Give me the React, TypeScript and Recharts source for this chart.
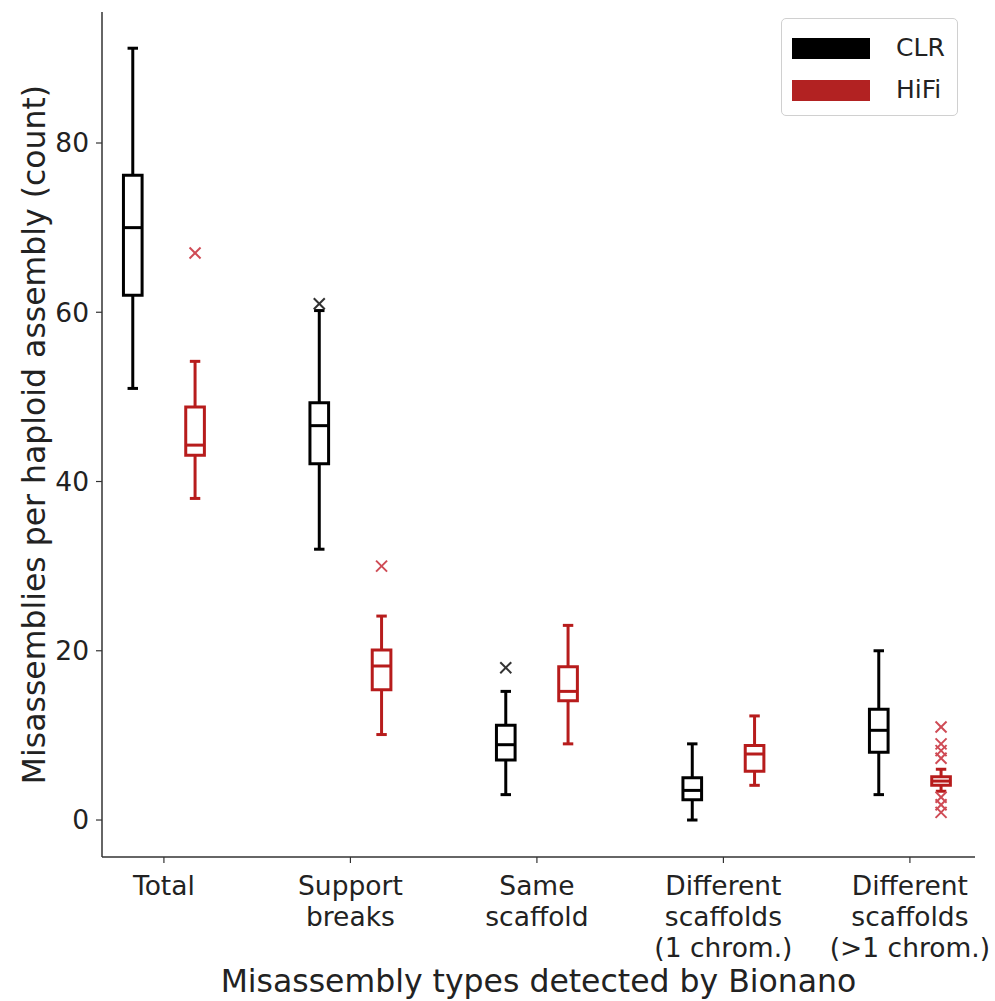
import React from 'react';
import {
  ComposedChart,
  XAxis,
  YAxis,
  Scatter,
  ReferenceArea,
  ReferenceLine,
  Legend,
} from 'recharts';

// ---------- data ----------
const categories = [
  'Total',
  'Support\nbreaks',
  'Same\nscaffold',
  'Different\nscaffolds\n(1 chrom.)',
  'Different\nscaffolds\n(>1 chrom.)',
];
const positions = [1, 2, 3, 4, 5];
const yTicks = [0, 20, 40, 60, 80];
const seriesNames = ['CLR', 'HiFi'];

const clrWhiskerLow = [51, 32, 3, 0, 3];
const clrQ1 = [62, 42.1, 7.1, 2.4, 8];
const clrMedian = [70, 46.6, 8.9, 3.5, 10.6];
const clrQ3 = [76.2, 49.3, 11.2, 5.0, 13.1];
const clrWhiskerHigh = [91.2, 60.2, 15.2, 9, 20];
const clrOutlierCat = [2, 3];
const clrOutlierVal = [61, 18];

const hifiWhiskerLow = [38, 10.1, 9, 4.1, 3.4];
const hifiQ1 = [43.1, 15.4, 14.1, 5.75, 4.1];
const hifiMedian = [44.3, 18.2, 15.2, 7.8, 4.6];
const hifiQ3 = [48.8, 20.1, 18.1, 8.8, 5.1];
const hifiWhiskerHigh = [54.2, 24.1, 23, 12.3, 6.0];
const hifiOutlierCat = [1, 2, 5, 5, 5, 5, 5, 5, 5];
const hifiOutlierVal = [67, 30, 11, 9, 8.2, 7.3, 2.7, 1.8, 0.9];

// ---------- styles ----------
const FONT = 'DejaVu Sans';
const CLR_COLOR = '#000000';
const HIFI_COLOR = '#b71c1c';
const HIFI_LEGEND = '#b22222';
const CLR_OUT = '#333333';
const HIFI_OUT = '#cf4b55';
const OFFSET = 0.167;
const BOX_HW = 0.05;
const CAP_HW = 0.028;
const LW = 3;
const TICK_FS = 26.5;
const LABEL_FS = 31.5;

type Stats = { pos: number; lo: number; q1: number; med: number; q3: number; hi: number };

const buildStats = (
  off: number,
  lo: number[],
  q1: number[],
  med: number[],
  q3: number[],
  hi: number[],
): Stats[] =>
  positions.map((p, i) => ({ pos: p + off, lo: lo[i], q1: q1[i], med: med[i], q3: q3[i], hi: hi[i] }));

const clrStats = buildStats(-OFFSET, clrWhiskerLow, clrQ1, clrMedian, clrQ3, clrWhiskerHigh);
const hifiStats = buildStats(OFFSET, hifiWhiskerLow, hifiQ1, hifiMedian, hifiQ3, hifiWhiskerHigh);

const clrOutliers = clrOutlierCat.map((c, i) => ({ x: c - OFFSET, y: clrOutlierVal[i] }));
const hifiOutliers = hifiOutlierCat.map((c, i) => ({ x: c + OFFSET, y: hifiOutlierVal[i] }));

const renderBoxes = (stats: Stats[], color: string, prefix: string) => {
  const els: React.ReactNode[] = [];
  stats.forEach((s, i) => {
    const k = `${prefix}-${i}`;
    els.push(
      <ReferenceLine
        key={`${k}-wl`}
        segment={[{ x: s.pos, y: s.lo }, { x: s.pos, y: s.q1 }]}
        stroke={color}
        strokeWidth={LW}
        ifOverflow="visible"
      />,
      <ReferenceLine
        key={`${k}-wh`}
        segment={[{ x: s.pos, y: s.q3 }, { x: s.pos, y: s.hi }]}
        stroke={color}
        strokeWidth={LW}
        ifOverflow="visible"
      />,
      <ReferenceLine
        key={`${k}-cl`}
        segment={[{ x: s.pos - CAP_HW, y: s.lo }, { x: s.pos + CAP_HW, y: s.lo }]}
        stroke={color}
        strokeWidth={LW}
        ifOverflow="visible"
      />,
      <ReferenceLine
        key={`${k}-ch`}
        segment={[{ x: s.pos - CAP_HW, y: s.hi }, { x: s.pos + CAP_HW, y: s.hi }]}
        stroke={color}
        strokeWidth={LW}
        ifOverflow="visible"
      />,
      <ReferenceArea
        key={`${k}-box`}
        x1={s.pos - BOX_HW}
        x2={s.pos + BOX_HW}
        y1={s.q1}
        y2={s.q3}
        fill="#ffffff"
        fillOpacity={1}
        stroke={color}
        strokeWidth={LW}
        ifOverflow="visible"
      />,
      <ReferenceLine
        key={`${k}-med`}
        segment={[{ x: s.pos - BOX_HW, y: s.med }, { x: s.pos + BOX_HW, y: s.med }]}
        stroke={color}
        strokeWidth={LW}
        ifOverflow="visible"
      />,
    );
  });
  return els;
};

const makeCross = (color: string) => (props: any) => {
  const { cx, cy } = props;
  if (cx == null || cy == null) return <g />;
  const r = 5.5;
  return (
    <g>
      <line x1={cx - r} y1={cy - r} x2={cx + r} y2={cy + r} stroke={color} strokeWidth={2} />
      <line x1={cx - r} y1={cy + r} x2={cx + r} y2={cy - r} stroke={color} strokeWidth={2} />
    </g>
  );
};

const XTick = (props: any) => {
  const { x, y, payload } = props;
  const idx = positions.indexOf(payload.value);
  const lines = idx >= 0 ? categories[idx].split('\n') : [];
  return (
    <text x={x} y={y} textAnchor="middle" fontSize={TICK_FS} fill="#222" fontFamily={FONT}>
      {lines.map((l, i) => (
        <tspan key={i} x={x} dy={i === 0 ? 30 : 31}>
          {l}
        </tspan>
      ))}
    </text>
  );
};

const LegendBox = () => (
  <div
    style={{
      width: 177,
      height: 98,
      border: '1px solid #d0d0d0',
      borderRadius: 5,
      background: '#fff',
      boxSizing: 'border-box',
      position: 'relative',
      fontFamily: FONT,
      fontSize: 25,
      color: '#222',
    }}
  >
    {seriesNames.map((n, i) => (
      <div
        key={n}
        style={{ position: 'absolute', left: 10, top: 18 + i * 42, display: 'flex', alignItems: 'center', height: 22 }}
      >
        <div style={{ width: 78, height: 21, background: i === 0 ? CLR_COLOR : HIFI_LEGEND }} />
        <span style={{ marginLeft: 26, lineHeight: '22px' }}>{n}</span>
      </div>
    ))}
  </div>
);

export default function App() {
  return (
    <div style={{ position: 'absolute', left: 0, top: 0, width: 995, height: 1001, background: '#fff' }}>
      <ComposedChart width={995} height={1001} margin={{ top: 12, right: 20, bottom: 0, left: 0 }}>
        <XAxis
          type="number"
          dataKey="x"
          domain={[0.668, 5.349]}
          ticks={positions}
          allowDataOverflow
          height={144}
          tick={<XTick />}
          tickSize={6}
          tickMargin={2}
          axisLine={{ stroke: '#333', strokeWidth: 1.5 }}
          tickLine={{ stroke: '#333', strokeWidth: 1.2 }}
          label={{
            value: 'Misassembly types detected by Bionano',
            position: 'insideBottom',
            offset: 9,
            fontSize: LABEL_FS,
            fill: '#222',
            fontFamily: FONT,
          }}
        />
        <YAxis
          type="number"
          dataKey="y"
          domain={[-4.37, 95.48]}
          ticks={yTicks}
          allowDataOverflow
          width={102}
          tickSize={6}
          tickMargin={7}
          tick={{ fontSize: TICK_FS, fill: '#222', fontFamily: FONT }}
          axisLine={{ stroke: '#333', strokeWidth: 1.5 }}
          tickLine={{ stroke: '#333', strokeWidth: 1.2 }}
          label={{
            value: 'Misassemblies per haploid assembly (count)',
            angle: -90,
            position: 'center',
            dx: -17,
            fontSize: LABEL_FS,
            fill: '#222',
            fontFamily: FONT,
          }}
        />
        {renderBoxes(clrStats, CLR_COLOR, 'clr')}
        {renderBoxes(hifiStats, HIFI_COLOR, 'hifi')}
        <Scatter
          name="CLR outliers"
          data={clrOutliers}
          dataKey="y"
          shape={makeCross(CLR_OUT)}
          isAnimationActive={false}
          legendType="none"
        />
        <Scatter
          name="HiFi outliers"
          data={hifiOutliers}
          dataKey="y"
          shape={makeCross(HIFI_OUT)}
          isAnimationActive={false}
          legendType="none"
        />
        <Legend
          layout="vertical"
          align="center"
          verticalAlign="middle"
          content={<LegendBox />}
          wrapperStyle={{ left: 781, top: 18, width: 177, height: 98 }}
        />
      </ComposedChart>
    </div>
  );
}
